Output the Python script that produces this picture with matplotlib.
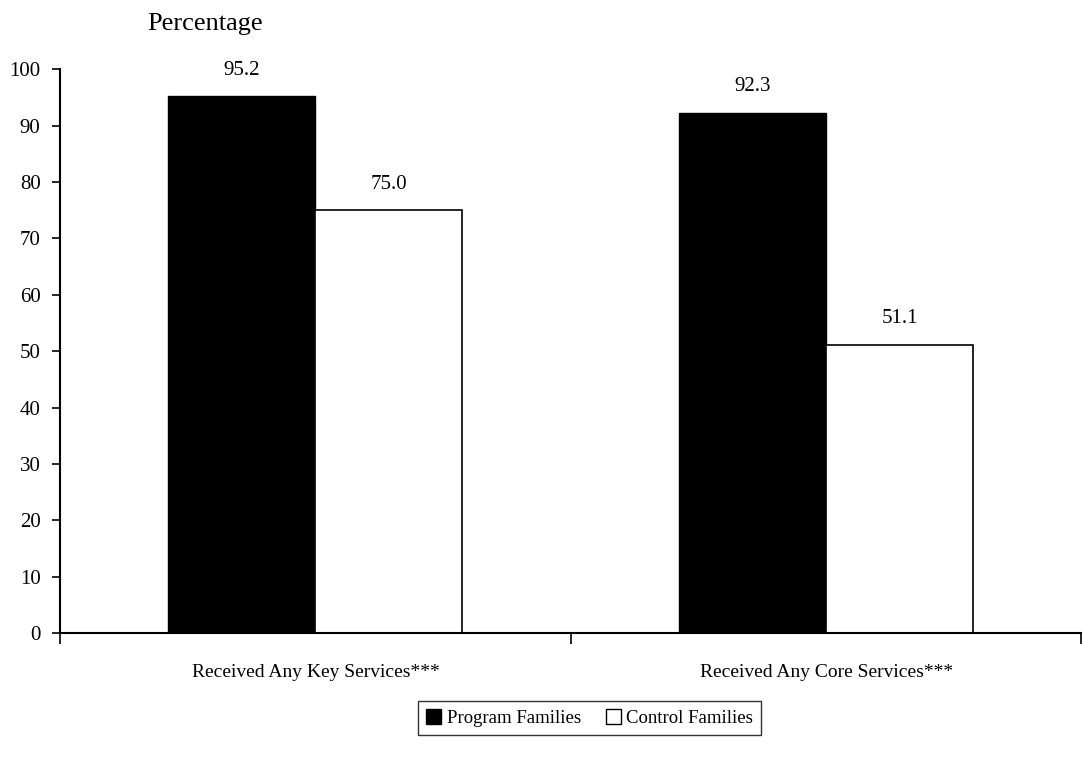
import numpy as np
import matplotlib.pyplot as plt
from matplotlib.patches import Patch

categories = ["Received Any Key Services***", "Received Any Core Services***"]
program = [95.2, 92.3]
control = [75.0, 51.1]
series_names = ["Program Families", "Control Families"]

plt.rcParams['font.family'] = ['Liberation Serif', 'DejaVu Serif']

fig = plt.figure(figsize=(10.82, 7.6), dpi=100)
ax = fig.add_axes([0.0555, 0.167, 0.944, 0.742])

x = np.arange(len(categories)) + 0.5
w = 0.288
b1 = ax.bar(x - w / 2, program, w, color='black', edgecolor='black', linewidth=1)
b2 = ax.bar(x + w / 2, control, w, color='white', edgecolor='black', linewidth=1.2)

# value labels above bars
for bars, vals in [(b1, program), (b2, control)]:
    for r, v in zip(bars, vals):
        ax.text(r.get_x() + r.get_width() / 2, v + 4.6, f"{v:.1f}",
                ha='center', va='center', fontsize=15)

ax.set_xlim(0, 2)
ax.set_ylim(0, 100)
ax.set_yticks(range(0, 101, 10))
ax.tick_params(axis='y', direction='out', length=6, width=1.2, labelsize=15, pad=8)
ax.set_xticks(x)
ax.set_xticklabels(categories, fontsize=14)
ax.tick_params(axis='x', which='major', length=0, pad=22)
ax.set_xticks([0, 1, 2], minor=True)
ax.tick_params(axis='x', which='minor', direction='out', length=8, width=1.2)

for s in ['top', 'right']:
    ax.spines[s].set_visible(False)
for s in ['left', 'bottom']:
    ax.spines[s].set_linewidth(1.5)

fig.text(0.136, 0.968, "Percentage", fontsize=19, ha='left', va='center')

handles = [Patch(facecolor='black', edgecolor='black'),
           Patch(facecolor='white', edgecolor='black')]
leg = fig.legend(handles, series_names, loc='center', bbox_to_anchor=(0.545, 0.055),
                 ncol=2, frameon=True, fancybox=False, fontsize=13.5,
                 handlelength=0.8, handleheight=0.8, handletextpad=0.3,
                 columnspacing=1.3, borderpad=0.45)
leg.get_frame().set_edgecolor('black')
leg.get_frame().set_linewidth(1.0)

fig.savefig("out.png", dpi=100)
